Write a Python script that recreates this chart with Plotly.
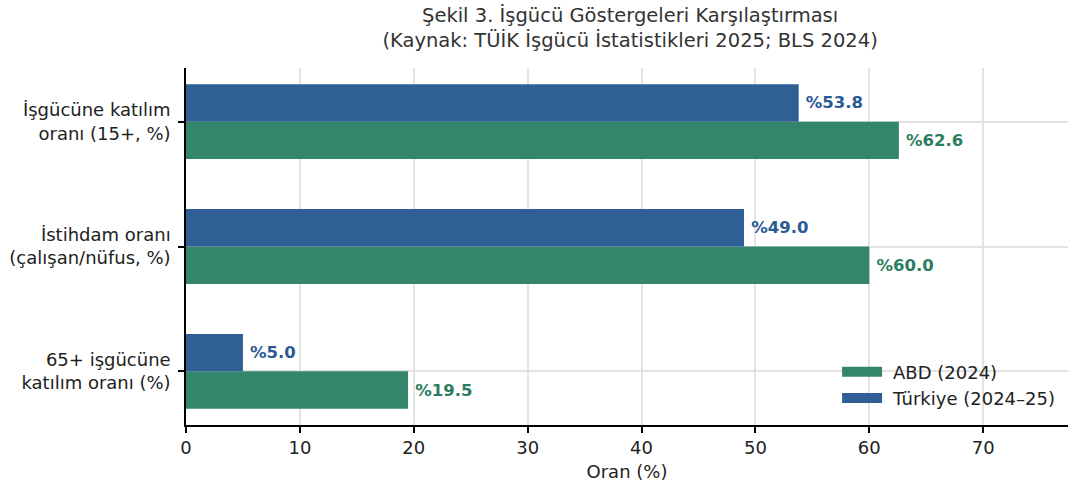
import plotly.graph_objects as go

categories = ["İşgücüne katılım<br>oranı (15+, %)", "İstihdam oranı<br>(çalışan/nüfus, %)", "65+ işgücüne<br>katılım oranı (%)"]
abd = [62.6, 60.0, 19.5]
turkiye = [53.8, 49.0, 5.0]
xticks = [0, 10, 20, 30, 40, 50, 60, 70]

GREEN = "#33866c"
BLUE = "#2f5f94"
FONT = "DejaVu Sans"
FS = 18
GRID = "rgba(222,222,222,0.85)"

pos = list(range(len(categories)))

fig = go.Figure()
fig.add_trace(go.Bar(
    y=pos, x=abd, orientation="h", name="ABD (2024)", showlegend=False,
    width=0.3, offset=0, marker=dict(color=GREEN, line=dict(width=0)),
    text=[f"\u2005%{v:.1f}" for v in abd], textposition="outside",
    textfont=dict(family=FONT, size=16.5, color="#2b7d62", weight="bold"),
    cliponaxis=False,
))
fig.add_trace(go.Bar(
    y=pos, x=turkiye, orientation="h", name="Türkiye (2024–25)", showlegend=False,
    width=0.3, offset=-0.3, marker=dict(color=BLUE, line=dict(width=0)),
    text=[f"\u2005%{v:.1f}" for v in turkiye], textposition="outside",
    textfont=dict(family=FONT, size=16.5, color="#2a5a92", weight="bold"),
    cliponaxis=False,
))
# legend entries drawn as wide rectangular swatches
for name, color in [("ABD (2024)", GREEN), ("Türkiye (2024–25)", BLUE)]:
    fig.add_trace(go.Scatter(
        x=[None], y=[None], mode="lines", name="\u2004" + name,
        line=dict(color=color, width=14), hoverinfo="skip",
    ))

fig.update_layout(
    width=1068, height=488,
    margin=dict(l=186, r=0, t=68, b=63, autoexpand=False),
    paper_bgcolor="white", plot_bgcolor="white",
    font=dict(family=FONT, size=FS, color="#222222"),
    title=dict(
        text="Şekil 3. İşgücü Göstergeleri Karşılaştırması<br>(Kaynak: TÜİK İşgücü İstatistikleri 2025; BLS 2024)",
        x=0.590, xanchor="center", y=0.955, yanchor="top",
        font=dict(family=FONT, size=19.5, color="#333333"),
        automargin=False,
    ),
    barmode="overlay",
    showlegend=True,
    legend=dict(
        x=0.7382, xanchor="left", y=0.024, yanchor="bottom",
        bgcolor="rgba(255,255,255,0)", font=dict(family=FONT, size=FS, color="#222222"),
        itemwidth=40,
    ),
)
fig.update_xaxes(
    range=[0, 77.45], tickvals=xticks, ticktext=[str(t) for t in xticks],
    showgrid=True, gridcolor=GRID, gridwidth=1.5,
    showline=True, linecolor="black", linewidth=1.5,
    ticks="outside", ticklen=6, tickwidth=1.5, tickcolor="black",
    title=dict(text="Oran (%)", font=dict(family=FONT, size=FS), standoff=8),
    zeroline=False, layer="above traces", automargin=False,
    tickfont=dict(family=FONT, size=FS, color="#222222"),
)
fig.update_yaxes(
    range=[2.43, -0.43], tickvals=pos, ticktext=categories,
    showgrid=True, gridcolor=GRID, gridwidth=1.5,
    showline=True, linecolor="black", linewidth=1.5,
    ticks="outside", ticklen=6, tickwidth=1.5, tickcolor="black",
    zeroline=False, layer="above traces", automargin=False,
    ticklabelstandoff=4,
    tickfont=dict(family=FONT, size=FS, color="#222222"),
)

fig.write_html(
    "out.html",
    config={"displayModeBar": False},
    post_script="document.body.style.margin='0';document.body.style.overflow='hidden';",
)
